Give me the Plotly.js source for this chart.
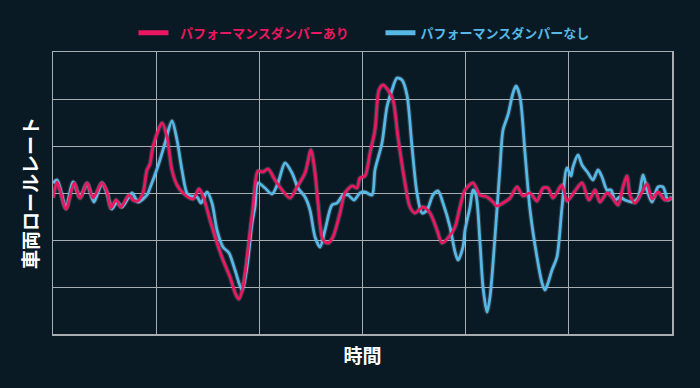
<!DOCTYPE html>
<html>
<head>
<meta charset="utf-8">
<script src="https://cdn.plot.ly/plotly-3.0.1.min.js"></script>
<style>
html,body{margin:0;padding:0;background:#0a1a24;}
#chart{width:700px;height:388px;}
</style>
</head>
<body>
<div id="chart"></div>
<script>
// Series names
const nameWith = 'パフォーマンスダンパーあり';
const nameWithout = 'パフォーマンスダンパーなし';

// With damper (pink): time, roll rate
const tWith = [0.000,0.039,0.068,0.126,0.204,0.262,0.330,0.388,0.475,0.523,0.562,0.611,0.659,0.737,0.775,0.824,0.872,0.911,0.940,0.969,1.057,1.105,1.153,1.202,1.260,1.357,1.415,1.454,1.522,1.590,1.648,1.716,1.774,1.803,1.842,1.890,1.939,1.987,2.036,2.084,2.152,2.220,2.297,2.365,2.443,2.501,2.540,2.569,2.617,2.666,2.714,2.782,2.830,2.898,2.947,2.976,3.024,3.073,3.121,3.160,3.199,3.247,3.296,3.344,3.412,3.460,3.509,3.586,3.654,3.722,3.771,3.829,3.897,3.945,3.994,4.071,4.139,4.207,4.265,4.304,4.362,4.430,4.498,4.556,4.624,4.691,4.750,4.798,4.847,4.934,4.982,5.060,5.128,5.195,5.254,5.302,5.370,5.418,5.477,5.525,5.564,5.593,5.641,5.709,5.758,5.806,5.864,5.932,6.000];
const rWith = [-0.106,0.234,0.064,-0.340,0.213,-0.106,0.213,-0.106,0.213,0.021,-0.319,-0.149,-0.298,-0.043,-0.149,-0.170,0.000,0.489,0.617,0.979,1.489,1.191,0.489,0.170,0.000,-0.128,0.085,-0.064,-0.574,-1.064,-1.426,-1.787,-2.170,-2.255,-2.000,-1.213,-0.298,0.468,0.447,0.511,0.277,0.064,-0.106,0.128,0.426,0.915,0.426,-0.213,-1.000,-1.064,-0.936,-0.426,0.000,0.149,0.106,0.319,0.362,0.851,1.340,2.191,2.298,2.191,1.979,1.191,0.213,-0.298,-0.426,-0.298,-0.426,-0.787,-1.064,-0.957,-0.723,-0.298,0.064,0.213,-0.043,-0.085,-0.191,-0.277,-0.213,-0.106,0.128,-0.064,0.000,-0.170,0.106,0.106,-0.106,0.170,-0.170,0.043,0.213,-0.149,0.064,-0.191,0.000,-0.085,-0.255,0.128,0.362,-0.043,-0.213,0.021,0.191,-0.128,0.021,-0.149,-0.106];

// Without damper (blue): time, roll rate
const tWithout = [0.000,0.039,0.078,0.126,0.194,0.262,0.330,0.397,0.475,0.523,0.572,0.620,0.669,0.766,0.824,0.911,0.940,1.018,1.086,1.153,1.202,1.250,1.309,1.396,1.435,1.493,1.541,1.590,1.648,1.706,1.764,1.832,1.880,1.929,1.958,1.987,2.055,2.123,2.181,2.249,2.317,2.375,2.443,2.491,2.540,2.588,2.637,2.704,2.753,2.811,2.859,2.918,2.976,3.024,3.092,3.121,3.189,3.237,3.286,3.334,3.383,3.431,3.480,3.528,3.577,3.625,3.683,3.732,3.780,3.848,3.897,3.926,3.974,3.994,4.042,4.071,4.100,4.139,4.168,4.207,4.236,4.284,4.333,4.362,4.410,4.459,4.488,4.527,4.575,4.624,4.691,4.740,4.769,4.798,4.837,4.885,4.934,4.982,5.021,5.040,5.089,5.128,5.186,5.234,5.283,5.322,5.370,5.409,5.448,5.496,5.544,5.612,5.670,5.719,5.758,5.806,5.864,5.913,5.961,6.000];
const rWithout = [0.213,0.277,0.021,-0.319,0.234,-0.085,0.191,-0.191,0.213,0.000,-0.340,-0.191,-0.298,0.000,-0.191,-0.043,0.106,0.574,1.064,1.532,1.128,0.489,-0.043,-0.085,-0.213,0.021,-0.213,-0.787,-1.149,-1.277,-1.638,-2.064,-1.574,-0.638,-0.298,0.213,0.106,-0.021,0.213,0.638,0.426,0.106,-0.085,-0.362,-0.936,-1.149,-0.787,-0.255,-0.213,-0.043,-0.043,-0.149,0.000,0.021,-0.043,0.489,1.064,1.830,2.191,2.447,2.404,2.085,0.979,0.000,-0.426,-0.362,-0.043,0.043,-0.213,-0.723,-1.255,-1.426,-1.149,-0.787,-0.298,0.064,-0.043,-1.064,-2.000,-2.532,-2.213,-0.936,0.553,1.340,1.660,2.128,2.277,2.043,0.851,-0.362,-1.362,-1.915,-2.064,-1.915,-1.638,-1.362,-0.298,0.532,0.362,0.553,0.809,0.596,0.426,0.277,0.489,0.340,0.064,0.064,-0.149,-0.085,-0.149,-0.191,-0.106,0.383,0.064,-0.191,0.128,0.128,-0.149,-0.085];

const pink = '#ea1860';
const blue = '#55b8e6';
const halo = 'rgba(220,230,240,0.16)';

const traces = [
  {x: tWithout, y: rWithout, mode: 'lines', showlegend: false, hoverinfo: 'skip',
   line: {color: halo, width: 5, shape: 'spline', smoothing: 0.8}},
  {x: tWithout, y: rWithout, mode: 'lines', showlegend: false,
   line: {color: blue, width: 2.8, shape: 'spline', smoothing: 0.8}},
  {x: tWith, y: rWith, mode: 'lines', showlegend: false, hoverinfo: 'skip',
   line: {color: halo, width: 5, shape: 'spline', smoothing: 0.8}},
  {x: tWith, y: rWith, mode: 'lines', showlegend: false,
   line: {color: pink, width: 2.8, shape: 'spline', smoothing: 0.8}},
  // legend entries (thicker key lines, coloured labels)
  {x: [null], y: [null], mode: 'lines', legendrank: 1,
   name: '\u2002<span style="color:' + pink + '">' + nameWith + '</span>',
   line: {color: pink, width: 5}},
  {x: [null], y: [null], mode: 'lines', legendrank: 2,
   name: '<span style="color:' + blue + '">' + nameWithout + '</span>',
   line: {color: blue, width: 5}}
];

const layout = {
  width: 700, height: 388,
  paper_bgcolor: '#0a1a24',
  plot_bgcolor: '#0a1a24',
  margin: {l: 53, r: 28, t: 52, b: 54},
  font: {family: '"Noto Sans CJK JP", "Noto Sans", sans-serif', color: '#ffffff'},
  showlegend: true,
  legend: {
    orientation: 'h', x: 0.130, xanchor: 'left', y: 1.068, yanchor: 'middle',
    font: {size: 13, weight: 'bold'},
    itemwidth: 30,
    entrywidth: 202, entrywidthmode: 'pixels',
    bgcolor: 'rgba(0,0,0,0)'
  },
  xaxis: {
    range: [0, 6], dtick: 1, tick0: 0,
    showticklabels: false, ticks: '',
    showgrid: true, gridcolor: '#a7adb2', gridwidth: 1,
    zeroline: false,
    showline: true, linecolor: '#a7adb2', linewidth: 1.5, mirror: true,
    title: {text: '時間', font: {size: 19, color: '#ffffff', weight: 'bold'}, standoff: 15}
  },
  yaxis: {
    range: [-3, 3], dtick: 1, tick0: 0,
    showticklabels: false, ticks: '',
    showgrid: true, gridcolor: '#a7adb2', gridwidth: 1,
    zeroline: false,
    showline: true, linecolor: '#a7adb2', linewidth: 1.5, mirror: true,
    title: {text: '車両ロールレート', font: {size: 19, color: '#ffffff', weight: 'bold'}, standoff: 8}
  }
};

Plotly.newPlot('chart', traces, layout, {displayModeBar: false, staticPlot: true});
</script>
</body>
</html>
